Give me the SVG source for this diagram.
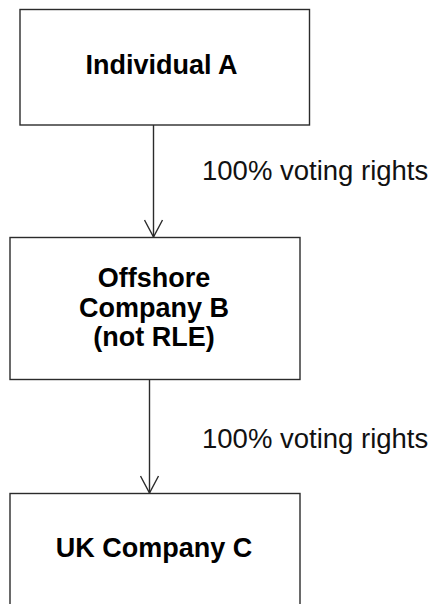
<svg xmlns="http://www.w3.org/2000/svg" width="431" height="604" viewBox="0 0 431 604">
  <style>
    .box { fill: #ffffff; stroke: #2b2b2b; stroke-width: 1.4; }
    .name { font-family: "Liberation Sans", Arial, sans-serif; font-weight: bold; font-size: 27px; fill: #000000; text-anchor: middle; }
    .edge { stroke: #2b2b2b; stroke-width: 1.4; fill: none; }
    .label { font-family: "Liberation Sans", Arial, sans-serif; font-size: 27.5px; fill: #111111; }
  </style>
  <defs>
    <!-- open "V" arrowhead, drawn along +x so orient="auto" points it down the line -->
    <marker id="open-arrow" viewBox="0 0 20 20" refX="18" refY="10" markerWidth="20" markerHeight="20" markerUnits="userSpaceOnUse" orient="auto">
      <path d="M1,1 L18,10 L1,19" fill="none" stroke="#2b2b2b" stroke-width="1.4"/>
    </marker>
  </defs>
  <rect width="431" height="604" fill="#ffffff"/>

  <g id="connectors">
    <g id="edge-a-b">
      <line class="edge" x1="153.5" y1="125" x2="153.5" y2="237" marker-end="url(#open-arrow)"/>
      <text class="label" x="202" y="180">100% voting rights</text>
    </g>
    <g id="edge-b-c">
      <line class="edge" x1="149.5" y1="379" x2="149.5" y2="493" marker-end="url(#open-arrow)"/>
      <text class="label" x="202" y="448">100% voting rights</text>
    </g>
  </g>

  <g id="node-individual-a">
    <rect class="box" x="20" y="9.5" width="289.5" height="115.5"/>
    <text class="name" x="161.5" y="73.5">Individual A</text>
  </g>

  <g id="node-offshore-company-b">
    <rect class="box" x="10" y="237.5" width="290" height="142"/>
    <text class="name" x="154" y="286.5">Offshore</text>
    <text class="name" x="154" y="316.5">Company B</text>
    <text class="name" x="154" y="346">(not RLE)</text>
  </g>

  <g id="node-uk-company-c">
    <rect class="box" x="10" y="493.5" width="290" height="130"/>
    <text class="name" x="154" y="556.5">UK Company C</text>
  </g>
</svg>
